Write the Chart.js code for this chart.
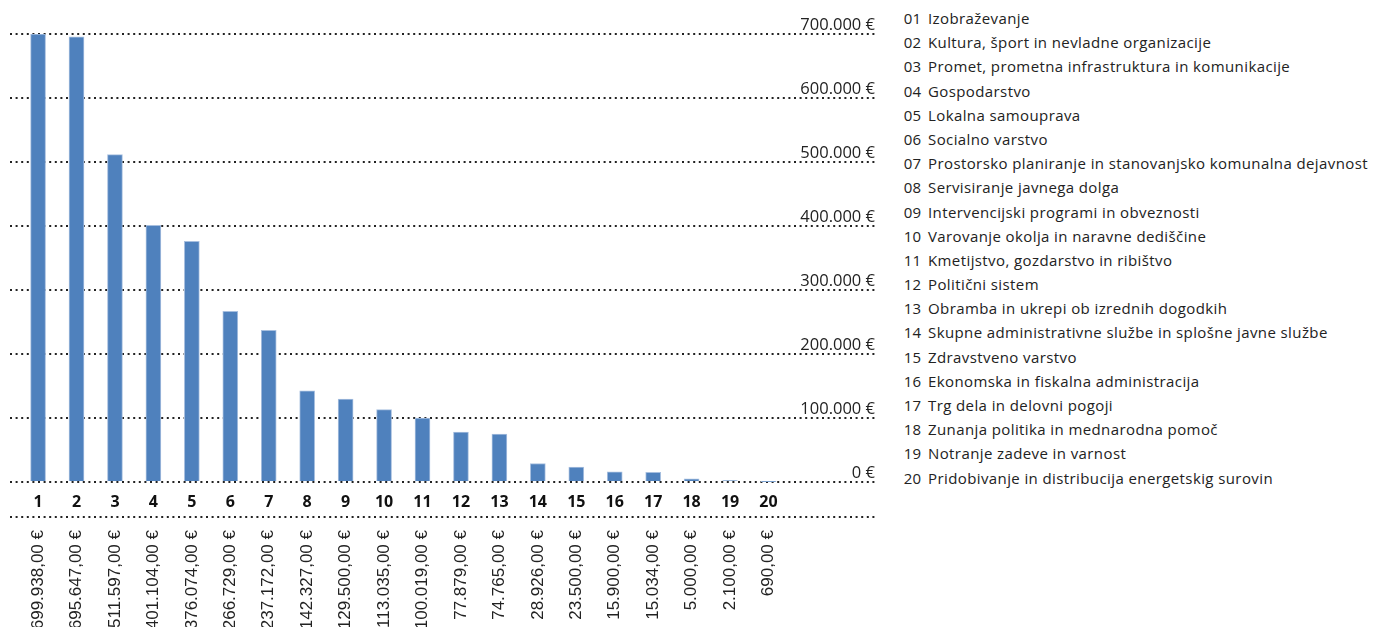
<!DOCTYPE html>
<html>
<head>
<meta charset="utf-8">
<script src="https://cdn.jsdelivr.net/npm/chart.js@4"></script>
<style>
  body { margin: 0; background: #fff; }
  #wrap { position: relative; width: 1373px; height: 627px; overflow: hidden; }
  #chartBox { position: absolute; left: 0; top: 0; width: 890px; height: 627px; }
  #names { position: absolute; left: 895px; top: 6px; font-family: "Open Sans", sans-serif; font-size: 15px; letter-spacing: 0.4px; color: #222; }
  #names div { height: 24.2px; line-height: 24.2px; white-space: nowrap; }
  #names span.n { display: inline-block; width: 26px; text-align: right; margin-right: 7px; letter-spacing: 0; }
</style>
</head>
<body>
<div id="wrap">
  <div id="chartBox"><canvas id="chart-bar"></canvas></div>
  <div id="names"></div>
</div>
<script>
// categories (1..20) and their names
var categories = [1, 2, 3, 4, 5, 6, 7, 8, 9, 10, 11, 12, 13, 14, 15, 16, 17, 18, 19, 20];
var names = [
    "Izobraževanje",
    "Kultura, šport in nevladne organizacije",
    "Promet, prometna infrastruktura in komunikacije",
    "Gospodarstvo",
    "Lokalna samouprava",
    "Socialno varstvo",
    "Prostorsko planiranje in stanovanjsko komunalna dejavnost",
    "Servisiranje javnega dolga",
    "Intervencijski programi in obveznosti",
    "Varovanje okolja in naravne dediščine",
    "Kmetijstvo, gozdarstvo in ribištvo",
    "Politični sistem",
    "Obramba in ukrepi ob izrednih dogodkih",
    "Skupne administrativne službe in splošne javne službe",
    "Zdravstveno varstvo",
    "Ekonomska in fiskalna administracija",
    "Trg dela in delovni pogoji",
    "Zunanja politika in mednarodna pomoč",
    "Notranje zadeve in varnost",
    "Pridobivanje in distribucija energetskig surovin"
];
var amounts = [699938, 695647, 511597, 401104, 376074, 266729, 237172, 142327, 129500, 113035,
               100019, 77879, 74765, 28926, 23500, 15900, 15034, 5000, 2100, 690];
var yTicks = [0, 100000, 200000, 300000, 400000, 500000, 600000, 700000];

// 699938 -> "699.938"
function thousands(v) {
    return Math.round(v).toString().replace(/\B(?=(\d{3})+(?!\d))/g, '.');
}

// legend list on the right
var namesBox = document.getElementById("names");
names.forEach(function(name, i) {
    var row = document.createElement("div");
    var num = (i + 1 < 10 ? "0" : "") + (i + 1);
    row.innerHTML = '<span class="n">' + num + '</span>' + name;
    namesBox.appendChild(row);
});

var gridColor = '#222';
var dots = [2, 3.6];

// dotted line on top of the amounts axis
var amountsLine = {
    id: 'amountsLine',
    afterDraw: function(chart) {
        var a = chart.scales.x2;
        var area = chart.chartArea;
        var c = chart.ctx;
        c.save();
        c.strokeStyle = gridColor;
        c.lineWidth = 2;
        c.setLineDash(dots);
        c.beginPath();
        c.moveTo(area.left, a.top);
        c.lineTo(area.right, a.top);
        c.stroke();
        c.restore();
    }
};

var ctx = document.getElementById("chart-bar").getContext("2d");

new Chart(ctx, {
    type: 'bar',
    data: {
        datasets: [{
            label: "Znesek",
            data: categories.map(function(c, i) { return { x: c, y: amounts[i] }; }),
            backgroundColor: '#4f81bd',
            borderColor: '#a7bfdf',
            borderWidth: 1,
            barThickness: 15,
            xAxisID: 'x',
            yAxisID: 'y',
        }],
    },
    plugins: [amountsLine],
    options: {
        responsive: true,
        maintainAspectRatio: false,
        animation: false,
        layout: { padding: { top: 34, left: 10, right: 15, bottom: 0 } },
        plugins: {
            legend: { display: false },
            tooltip: { enabled: false },
        },
        scales: {
            x: {
                type: 'linear',
                position: 'bottom',
                weight: 0,
                offset: false,
                min: 0.27,
                max: 22.77,
                afterBuildTicks: function(axis) {
                    axis.ticks = categories.map(function(c) { return { value: c }; });
                },
                afterFit: function(axis) { axis.height = 35; },
                grid: { display: false, drawTicks: false },
                border: { display: false },
                ticks: {
                    autoSkip: false,
                    maxRotation: 0,
                    padding: 11,
                    color: '#111',
                    font: { size: 16, weight: 'bold', family: "Open Sans" },
                    callback: function(value) { return String(value); },
                },
            },
            x2: {
                type: 'linear',
                position: 'bottom',
                weight: 1,
                offset: false,
                min: 0.27,
                max: 22.77,
                afterBuildTicks: function(axis) {
                    axis.ticks = categories.map(function(c) { return { value: c }; });
                },
                afterFit: function(axis) { axis.height = 110; },
                grid: { display: false, drawTicks: false },
                border: { display: false },
                ticks: {
                    autoSkip: false,
                    minRotation: 90,
                    maxRotation: 90,
                    padding: 13,
                    color: '#222',
                    font: { size: 17, family: "Liberation Sans" },
                    callback: function(value) {
                        var i = categories.indexOf(value);
                        return i < 0 ? '' : thousands(amounts[i]) + ',00 €';
                    },
                },
            },
            y: {
                position: 'right',
                min: 0,
                max: 700000,
                afterBuildTicks: function(axis) {
                    axis.ticks = yTicks.map(function(v) { return { value: v }; });
                },
                afterFit: function(axis) { axis.width = 0; },
                grid: {
                    color: gridColor,
                    lineWidth: 2,
                    drawTicks: false,
                },
                border: { display: false, dash: dots },
                ticks: {
                    mirror: true,
                    padding: 0,
                    labelOffset: -9,
                    color: '#222',
                    font: { size: 16.5, family: "Open Sans" },
                    callback: function(value) { return thousands(value) + ' €'; },
                },
            },
        },
    },
});
</script>
</body>
</html>
